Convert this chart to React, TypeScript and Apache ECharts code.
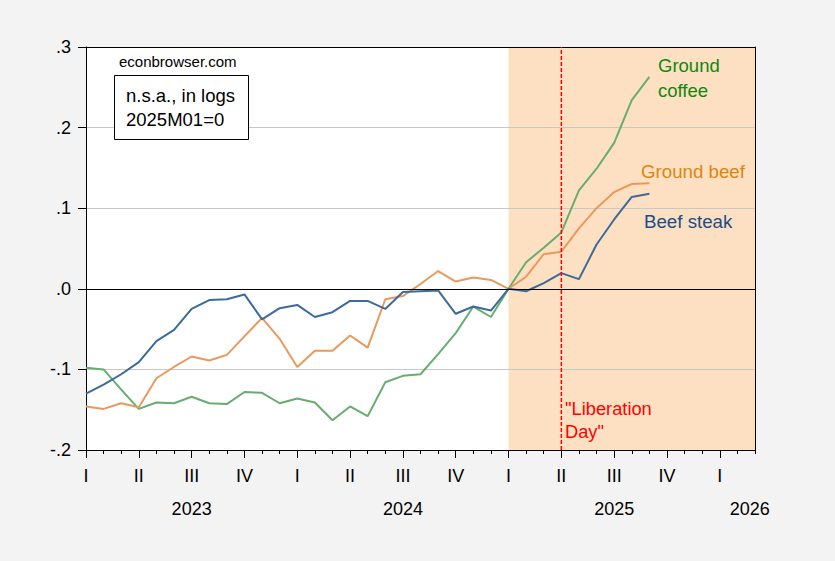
import React, { useEffect, useRef } from "react";
import * as echarts from "echarts";

// Months since 2023M01 (index 0) through 2025M09 (index 32)
const months: string[] = [
  "2023M01","2023M02","2023M03","2023M04","2023M05","2023M06","2023M07","2023M08","2023M09","2023M10","2023M11","2023M12",
  "2024M01","2024M02","2024M03","2024M04","2024M05","2024M06","2024M07","2024M08","2024M09","2024M10","2024M11","2024M12",
  "2025M01","2025M02","2025M03","2025M04","2025M05","2025M06","2025M07","2025M08","2025M09",
];

const beefSteak: number[] = [
  -0.130, -0.119, -0.106, -0.091, -0.065, -0.051, -0.025, -0.014, -0.013, -0.007, -0.038, -0.024,
  -0.020, -0.035, -0.029, -0.015, -0.015, -0.025, -0.004, -0.003, -0.002, -0.031, -0.022, -0.027,
  0.000, -0.003, 0.007, 0.0195, 0.012, 0.055, 0.086, 0.114, 0.118,
];

const groundBeef: number[] = [
  -0.146, -0.149, -0.142, -0.147, -0.111, -0.097, -0.084, -0.089, -0.082, -0.059, -0.036, -0.062,
  -0.097, -0.077, -0.077, -0.058, -0.073, -0.013, -0.009, 0.006, 0.022, 0.009, 0.014, 0.011,
  0.000, 0.015, 0.043, 0.046, 0.075, 0.100, 0.120, 0.130, 0.131,
];

const groundCoffee: number[] = [
  -0.098, -0.100, -0.125, -0.149, -0.141, -0.142, -0.134, -0.142, -0.143, -0.128, -0.129, -0.142,
  -0.136, -0.141, -0.163, -0.146, -0.158, -0.116, -0.108, -0.106, -0.081, -0.055, -0.022, -0.035,
  0.000, 0.033, 0.051, 0.070, 0.122, 0.149, 0.181, 0.234, 0.263,
];

// Axis: month index from 2023M01 (0) to 2026M03 (38)
const xMin = 0;
const xMax = 38;
const yMin = -0.2;
const yMax = 0.3;
const quarterTicks: number[] = [0, 3, 6, 9, 12, 15, 18, 21, 24, 27, 30, 33, 36];
const quarterNames: string[] = ["I", "II", "III", "IV"];
const yearLabels: string[] = ["2023", "2024", "2025", "2026"];
const yearPositions: number[] = [6, 18, 30, 37.7];

const shadeStart = 24; // 2025M01
const liberationDay = 27; // 2025M04

const FONT = "'Liberation Sans', Arial, sans-serif";

export default function App() {
  const ref = useRef<HTMLDivElement>(null);

  useEffect(() => {
    if (!ref.current) return;
    const chart = echarts.init(ref.current, null, { renderer: "svg" });

    const toData = (arr: number[]) => arr.map((v, i) => [i, v]);

    const option: any = {
      animation: false,
      backgroundColor: "#F3F3F3",
      textStyle: { fontFamily: FONT },
      grid: {
        left: 86,
        right: 80,
        top: 47,
        bottom: 111,
        show: true,
        backgroundColor: "#FFFFFF",
        borderWidth: 0,
      },
      xAxis: [
        {
          type: "value",
          min: xMin,
          max: xMax,
          position: "bottom",
          z: 1.5,
          axisLine: { show: true, onZero: false, lineStyle: { color: "#000", width: 1 } },
          axisTick: { show: true, customValues: quarterTicks, length: 8, lineStyle: { color: "#000" } },
          axisLabel: {
            show: true,
            customValues: quarterTicks,
            margin: 17,
            fontSize: 18,
            color: "#000",
            fontFamily: FONT,
            formatter: (v: number) => quarterNames[Math.round(v / 3) % 4],
          },
          splitLine: { show: false },
        },
        {
          type: "value",
          min: xMin,
          max: xMax,
          interval: 1,
          position: "bottom",
          z: 1.5,
          axisLine: { show: false, onZero: false },
          axisTick: { show: true, length: 4, lineStyle: { color: "#000" } },
          axisLabel: { show: false },
          splitLine: { show: false },
        },
        {
          type: "value",
          min: xMin,
          max: xMax,
          position: "top",
          z: 1.5,
          axisLine: { show: true, onZero: false, lineStyle: { color: "#000", width: 1 } },
          axisTick: { show: false },
          axisLabel: { show: false },
          splitLine: { show: false },
        },
        {
          type: "value",
          min: xMin,
          max: xMax,
          position: "bottom",
          z: 1.5,
          axisLine: { show: false, onZero: false },
          axisTick: { show: false },
          axisLabel: {
            show: true,
            customValues: yearPositions,
            margin: 50,
            fontSize: 18,
            color: "#000",
            fontFamily: FONT,
            formatter: (v: number) => {
              const idx = yearPositions.findIndex((p) => Math.abs(p - v) < 0.01);
              return idx >= 0 ? yearLabels[idx] : "";
            },
          },
          splitLine: { show: false },
        },
      ],
      yAxis: [
        {
          type: "value",
          min: yMin,
          max: yMax,
          interval: 0.1,
          position: "left",
          z: 1.5,
          axisLine: { show: true, onZero: false, lineStyle: { color: "#000", width: 1 } },
          axisTick: { show: true, length: 8, lineStyle: { color: "#000" } },
          axisLabel: {
            margin: 15,
            fontSize: 18,
            color: "#000",
            fontFamily: FONT,
            formatter: (v: number) => {
              const r = Math.round(v * 10) / 10;
              return r.toFixed(1).replace("0.", ".");
            },
          },
          splitLine: { show: true, lineStyle: { color: "#C8C8C8", width: 1 } },
        },
        {
          type: "value",
          min: yMin,
          max: yMax,
          interval: 0.1,
          position: "right",
          z: 1.5,
          axisLine: { show: true, onZero: false, lineStyle: { color: "#000", width: 1 } },
          axisTick: { show: false },
          axisLabel: { show: false },
          splitLine: { show: false },
        },
      ],
      series: [
        {
          name: "Ground coffee",
          type: "line",
          xAxisIndex: 0,
          yAxisIndex: 0,
          data: toData(groundCoffee),
          symbol: "none",
          lineStyle: { color: "#67AD6F", width: 2 },
          itemStyle: { color: "#67AD6F" },
          markArea: {
            silent: true,
            itemStyle: { color: "#FDE0C2" },
            data: [[{ xAxis: shadeStart }, { xAxis: xMax }]],
          },
        },
        {
          name: "Ground beef",
          type: "line",
          xAxisIndex: 0,
          yAxisIndex: 0,
          data: toData(groundBeef),
          symbol: "none",
          lineStyle: { color: "#E9995C", width: 2 },
          itemStyle: { color: "#E9995C" },
          markLine: {
            silent: true,
            symbol: ["none", "none"],
            label: { show: false },
            lineStyle: { color: "#000000", width: 1, type: "solid", opacity: 1 },
            data: [{ yAxis: 0 }],
          },
        },
        {
          name: "Beef steak",
          type: "line",
          xAxisIndex: 0,
          yAxisIndex: 0,
          data: toData(beefSteak),
          symbol: "none",
          lineStyle: { color: "#3B6A9C", width: 2 },
          itemStyle: { color: "#3B6A9C" },
        },
        {
          name: "Liberation Day",
          type: "line",
          xAxisIndex: 0,
          yAxisIndex: 0,
          z: 3,
          data: [
            [liberationDay, yMin],
            [liberationDay, yMax],
          ],
          symbol: "none",
          silent: true,
          lineStyle: { color: "#FF0000", width: 1.5, type: [4, 2] },
          itemStyle: { color: "#FF0000" },
        },
      ],
      graphic: [
        {
          type: "text",
          z: 100,
          style: { x: 119, y: 61, text: "econbrowser.com", fontSize: 15, fontFamily: FONT, fill: "#000", textVerticalAlign: "middle" },
        },
        {
          type: "rect",
          z: 100,
          shape: { x: 114.5, y: 75.5, width: 134, height: 64 },
          style: { fill: "#FFFFFF", stroke: "#000", lineWidth: 1 },
        },
        {
          type: "text",
          z: 101,
          style: { x: 126, y: 95, text: "n.s.a., in logs", fontSize: 18.5, fontFamily: FONT, fill: "#000", textVerticalAlign: "middle" },
        },
        {
          type: "text",
          z: 101,
          style: { x: 126, y: 119, text: "2025M01=0", fontSize: 18.5, fontFamily: FONT, fill: "#000", textVerticalAlign: "middle" },
        },
        {
          type: "text",
          z: 100,
          style: { x: 658, y: 65, text: "Ground", fontSize: 18.5, fontFamily: FONT, fill: "#0C880C", textVerticalAlign: "middle" },
        },
        {
          type: "text",
          z: 100,
          style: { x: 658, y: 90, text: "coffee", fontSize: 18.5, fontFamily: FONT, fill: "#0C880C", textVerticalAlign: "middle" },
        },
        {
          type: "text",
          z: 100,
          style: { x: 641, y: 171, text: "Ground beef", fontSize: 18.7, fontFamily: FONT, fill: "#DD8410", textVerticalAlign: "middle" },
        },
        {
          type: "text",
          z: 100,
          style: { x: 644, y: 221, text: "Beef steak", fontSize: 18.7, fontFamily: FONT, fill: "#1A4C8C", textVerticalAlign: "middle" },
        },
        {
          type: "text",
          z: 100,
          style: { x: 565, y: 408, text: "\"Liberation", fontSize: 18.3, fontFamily: FONT, fill: "#FF0000", textVerticalAlign: "middle" },
        },
        {
          type: "text",
          z: 100,
          style: { x: 565, y: 431, text: "Day\"", fontSize: 18.3, fontFamily: FONT, fill: "#FF0000", textVerticalAlign: "middle" },
        },
      ],
    };

    chart.setOption(option);
    return () => chart.dispose();
  }, []);

  return (
    <div
      ref={ref}
      style={{ position: "absolute", left: 0, top: 0, width: 835, height: 561 }}
      data-months={months.length}
    />
  );
}
